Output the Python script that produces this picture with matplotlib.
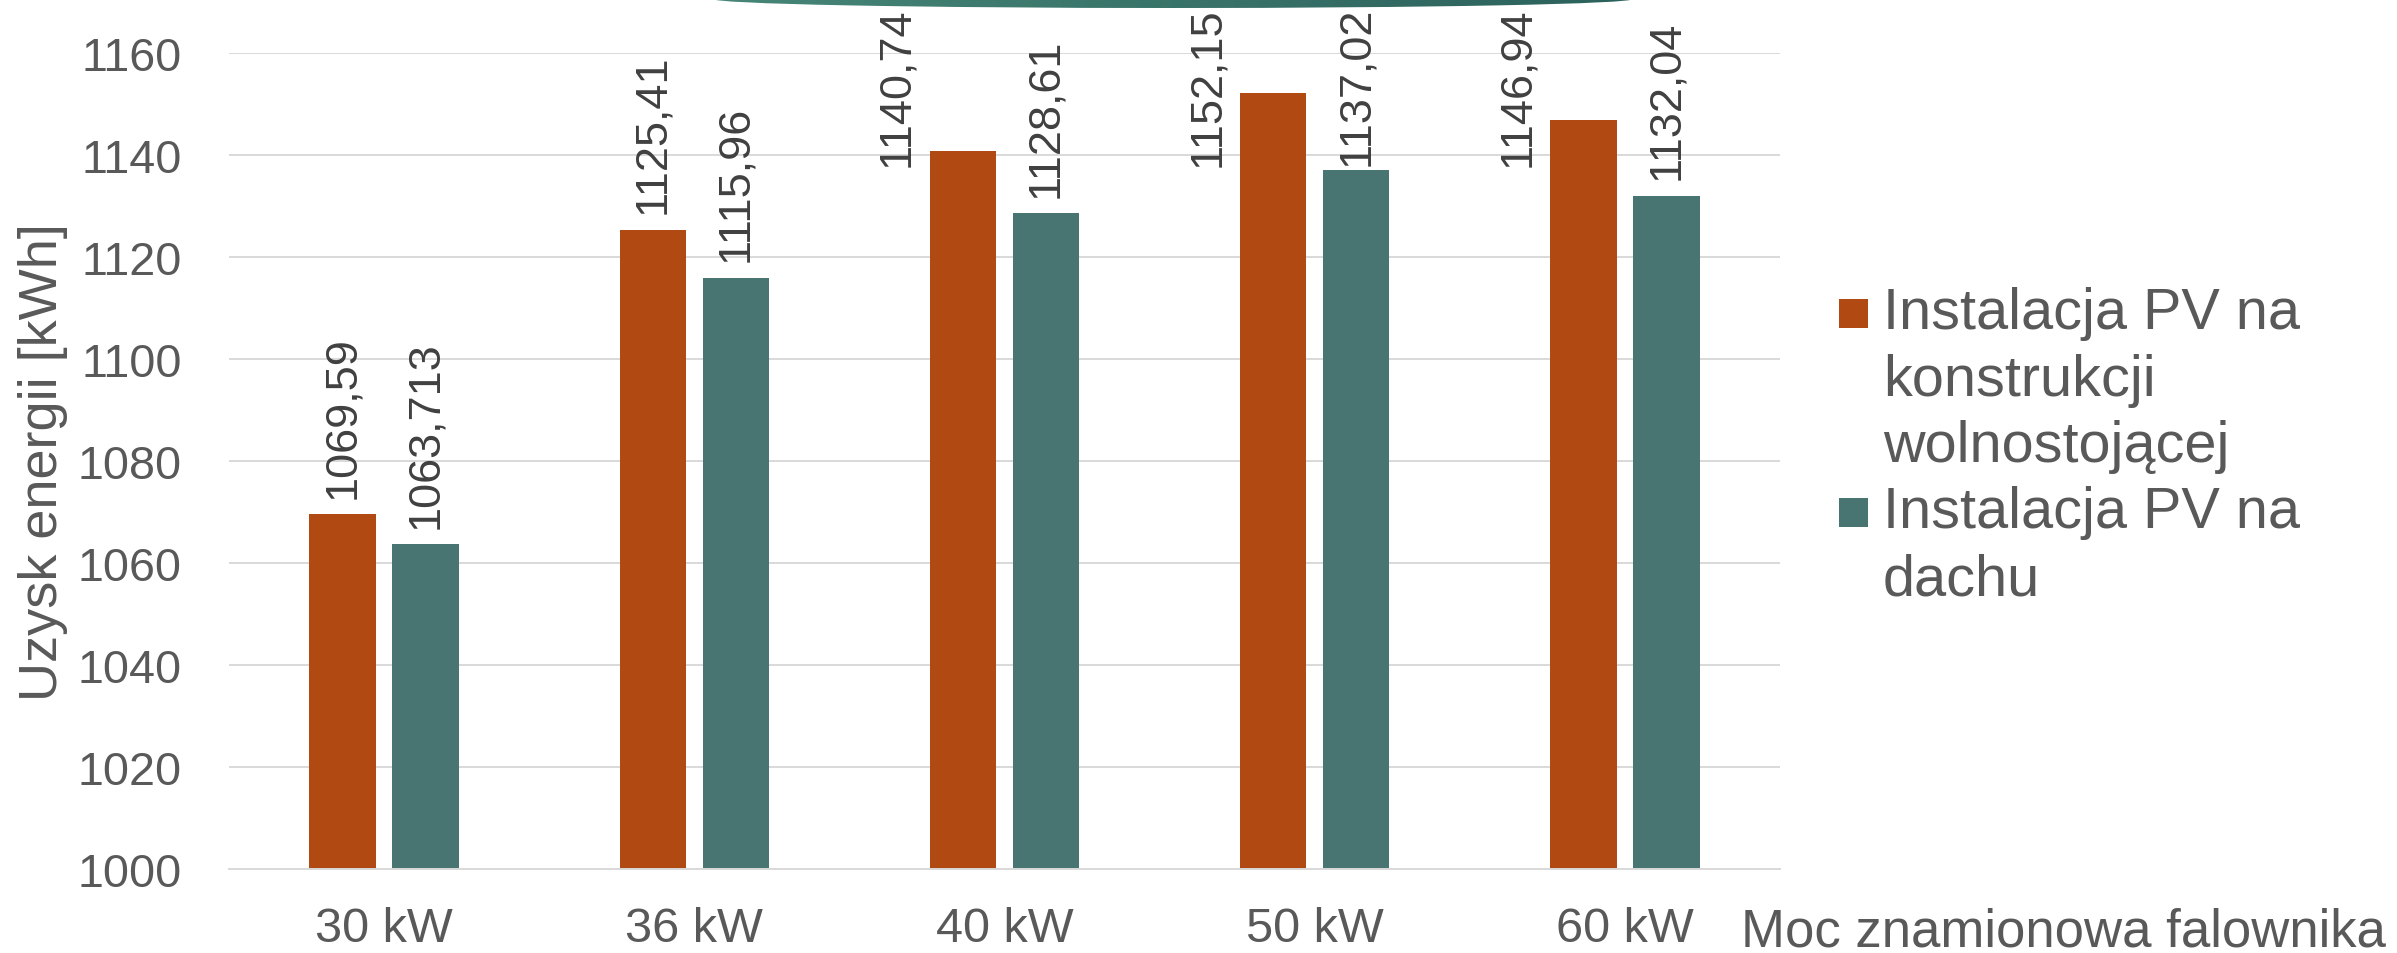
import matplotlib
matplotlib.use("Agg")
import matplotlib.pyplot as plt
import numpy as np
from matplotlib.patches import Ellipse, Rectangle
from matplotlib.colors import LinearSegmentedColormap

# ---- data -------------------------------------------------------------
categories = ["30 kW", "36 kW", "40 kW", "50 kW", "60 kW"]
freestanding = [1069.59, 1125.41, 1140.74, 1152.15, 1146.94]
rooftop = [1063.713, 1115.96, 1128.61, 1137.02, 1132.04]
series_names = ["Instalacja PV na\nkonstrukcji\nwolnostojącej",
                "Instalacja PV na\ndachu"]
y_ticks = [1000, 1020, 1040, 1060, 1080, 1100, 1120, 1140, 1160]

# ---- style ------------------------------------------------------------
ORANGE = "#B04A12"
TEAL = "#487472"
TEXT = "#595959"
LABEL = "#404040"
GRID = "#D9D9D9"
FONT = ["Liberation Sans", "DejaVu Sans"]
plt.rcParams["font.family"] = FONT

W, H, DPI = 2397, 954, 100
fig = plt.figure(figsize=(W / DPI, H / DPI), dpi=DPI)
fig.patch.set_facecolor("white")

# decorative header band at the top edge
deco = fig.add_axes([0, 0, 1, 1], zorder=0)
deco.set_xlim(0, W)
deco.set_ylim(0, H)
deco.axis("off")
band = Ellipse((1173, H), 920, 18, facecolor="none", edgecolor="none")
deco.add_patch(band)
grad = np.linspace(0, 1, 256).reshape(1, -1)
cmap = LinearSegmentedColormap.from_list("band", ["#468677", "#2c615c"])
im = deco.imshow(grad, extent=[713, 1633, H - 12, H], cmap=cmap, aspect="auto")
im.set_clip_path(band)

ax = fig.add_axes([229 / W, 84 / H, 1551 / W, 815.7 / H], zorder=1)
ax.patch.set_alpha(0)

x = np.arange(len(categories))
offset, width = 0.134, 0.214
bars_a = ax.bar(x - offset, freestanding, width, color=ORANGE, label=series_names[0])
bars_b = ax.bar(x + offset, rooftop, width, color=TEAL, label=series_names[1])

ax.set_xlim(-0.5, len(categories) - 0.5)
ax.set_ylim(y_ticks[0], y_ticks[-1])
ax.set_yticks(y_ticks)
ax.set_yticklabels([str(t) for t in y_ticks])
ax.set_xticks(x)
ax.set_xticklabels(categories)
ax.set_axisbelow(True)
ax.yaxis.grid(True, color=GRID, linewidth=1.4)
for side in ["top", "right", "left"]:
    ax.spines[side].set_visible(False)
ax.spines["bottom"].set_color(GRID)
ax.spines["bottom"].set_linewidth(1.4)
ax.tick_params(axis="both", length=0, colors=TEXT)
ax.tick_params(axis="y", labelsize=33.7, pad=34)
ax.tick_params(axis="x", labelsize=35, pad=27)

ax.set_ylabel("Uzysk energii [kWh]", fontsize=39, color=TEXT,
              ha="center", va="center")
ax.yaxis.set_label_coords(-0.1199, 0.5)
ax.set_xlabel("Moc znamionowa falownika", fontsize=38, color=TEXT,
              ha="center", va="baseline")
ax.xaxis.set_label_coords(1.1825, -0.0932)

# ---- value labels -----------------------------------------------------
def fmt(v):
    return str(v).replace(".", ",")

top_margin_px = 7
fig.canvas.draw()
renderer = fig.canvas.get_renderer()
for bars, values in ((bars_a, freestanding), (bars_b, rooftop)):
    for bar, v in zip(bars, values):
        cx = bar.get_x() + bar.get_width() / 2
        ann = ax.annotate(fmt(v), xy=(cx, v), xytext=(0, 12),
                          textcoords="offset points", rotation=90,
                          ha="center", va="bottom", fontsize=32.5,
                          color=LABEL, annotation_clip=False)
        bb = ann.get_window_extent(renderer)
        if bb.y1 > H - top_margin_px:
            # keep the label inside the figure; move it beside the bar
            # when it would otherwise sit on top of the bar
            length = bb.height
            bar_top = ax.transData.transform((cx, v))[1]
            clamped_bottom = H - top_margin_px - length
            overlap = bar_top - clamped_bottom
            ann.remove()
            dx = -66 if overlap > 10 else 0
            ax.annotate(fmt(v), xy=(cx, H - top_margin_px),
                        xycoords=("data", "figure pixels"),
                        xytext=(dx * 72 / DPI, 0), textcoords="offset points",
                        rotation=90, ha="center", va="top", fontsize=32.5,
                        color=LABEL, annotation_clip=False)

# ---- legend -----------------------------------------------------------
leg_x_box, leg_x_text, box = 1839, 1883, 29
line_step = 66.5
y_cursor = 314
for name, color in zip(series_names, [ORANGE, TEAL]):
    fig.add_artist(Rectangle((leg_x_box / W, (H - y_cursor - box / 2) / H),
                             box / W, box / H, transform=fig.transFigure,
                             facecolor=color, edgecolor="none"))
    for line in name.split("\n"):
        fig.text(leg_x_text / W, (H - y_cursor) / H, line, fontsize=41.5,
                 color=TEXT, ha="left", va="center")
        y_cursor += line_step

fig.savefig("out.png", dpi=DPI, facecolor="white")
